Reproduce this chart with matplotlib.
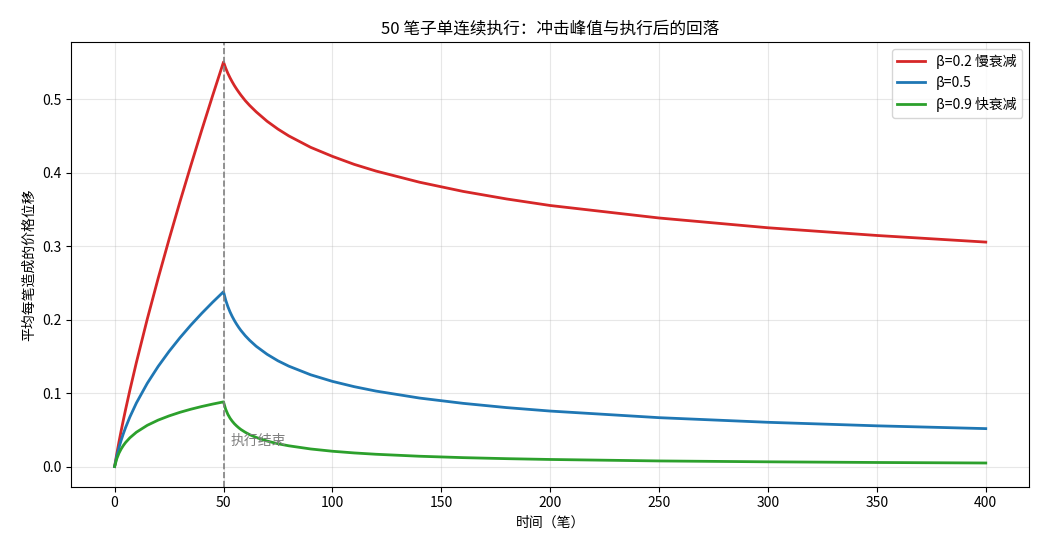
import matplotlib
matplotlib.use("Agg")
import matplotlib.pyplot as plt

plt.rcParams['font.family'] = ['Noto Sans CJK SC', 'DejaVu Sans']
plt.rcParams['axes.unicode_minus'] = False

# time steps (trades) and mean price displacement per trade
t = [0, 1, 2, 3, 4, 5, 7, 10, 15, 20, 25, 30, 35, 40, 45, 50,
     51, 52, 53, 54, 55, 56, 57, 58, 60, 62, 65, 70, 75, 80, 90, 100, 110, 120,
     140, 160, 180, 200, 250, 300, 350, 400]

beta_02 = [0, .0174, .0335, .0486, .0631, .0771, .1038,
           .1417, .2008, .2563, .3093, .3604, .4097, .4579, .5048, .5506,
           .5423, .5352, .5291, .5236, .5185, .5139, .5096, .5055,
           .4980, .4915, .4828, .4700, .4593, .4500, .4345, .4222, .4113, .4022,
           .3870, .3745, .3642, .3553, .3383, .3250, .3145, .3055]
beta_05 = [0, .0141, .0257, .0357, .0446, .0528, .0674,
           .0865, .1133, .1363, .1567, .1753, .1925, .2085, .2236, .2379,
           .2265, .2177, .2104, .2042, .1987, .1938, .1893, .1852,
           .1780, .1718, .1637, .1528, .1439, .1366, .1249, .1159, .1087, .1027,
           .0932, .0860, .0802, .0755, .0665, .0602, .0554, .0516]
beta_09 = [0, .0107, .0182, .0239, .0286, .0326, .0391,
           .0467, .0561, .0632, .0689, .0738, .0780, .0817, .0850, .0880,
           .0779, .0710, .0658, .0617, .0582, .0553, .0527, .0504,
           .0466, .0434, .0396, .0347, .0310, .0282, .0239, .0208, .0185, .0167,
           .0140, .0121, .0107, .0096, .0076, .0064, .0055, .0048]

labels = ["β=0.2 慢衰减", "β=0.5", "β=0.9 快衰减"]
colors = ["#d62728", "#1f77b4", "#2ca02c"]
n_exec = 50


def main():
    fig, ax = plt.subplots(figsize=(10.45, 5.5), dpi=100)
    fig.subplots_adjust(left=0.068, right=0.985, top=0.924, bottom=0.115)

    for series, label, color in zip([beta_02, beta_05, beta_09], labels, colors):
        ax.plot(t, series, label=label, color=color, linewidth=2)

    ax.axvline(n_exec, color="gray", linestyle="--", linewidth=1.2)
    ax.text(n_exec + 3, 0.035, "执行结束", color="gray", fontsize=10, va="center")

    ax.set_title("50 笔子单连续执行：冲击峰值与执行后的回落", fontsize=12)
    ax.set_xlabel("时间（笔）")
    ax.set_ylabel("平均每笔造成的价格位移")
    ax.grid(True, alpha=0.3)
    ax.legend(loc="upper right")

    fig.savefig("out.png", dpi=100)


if __name__ == "__main__":
    main()
